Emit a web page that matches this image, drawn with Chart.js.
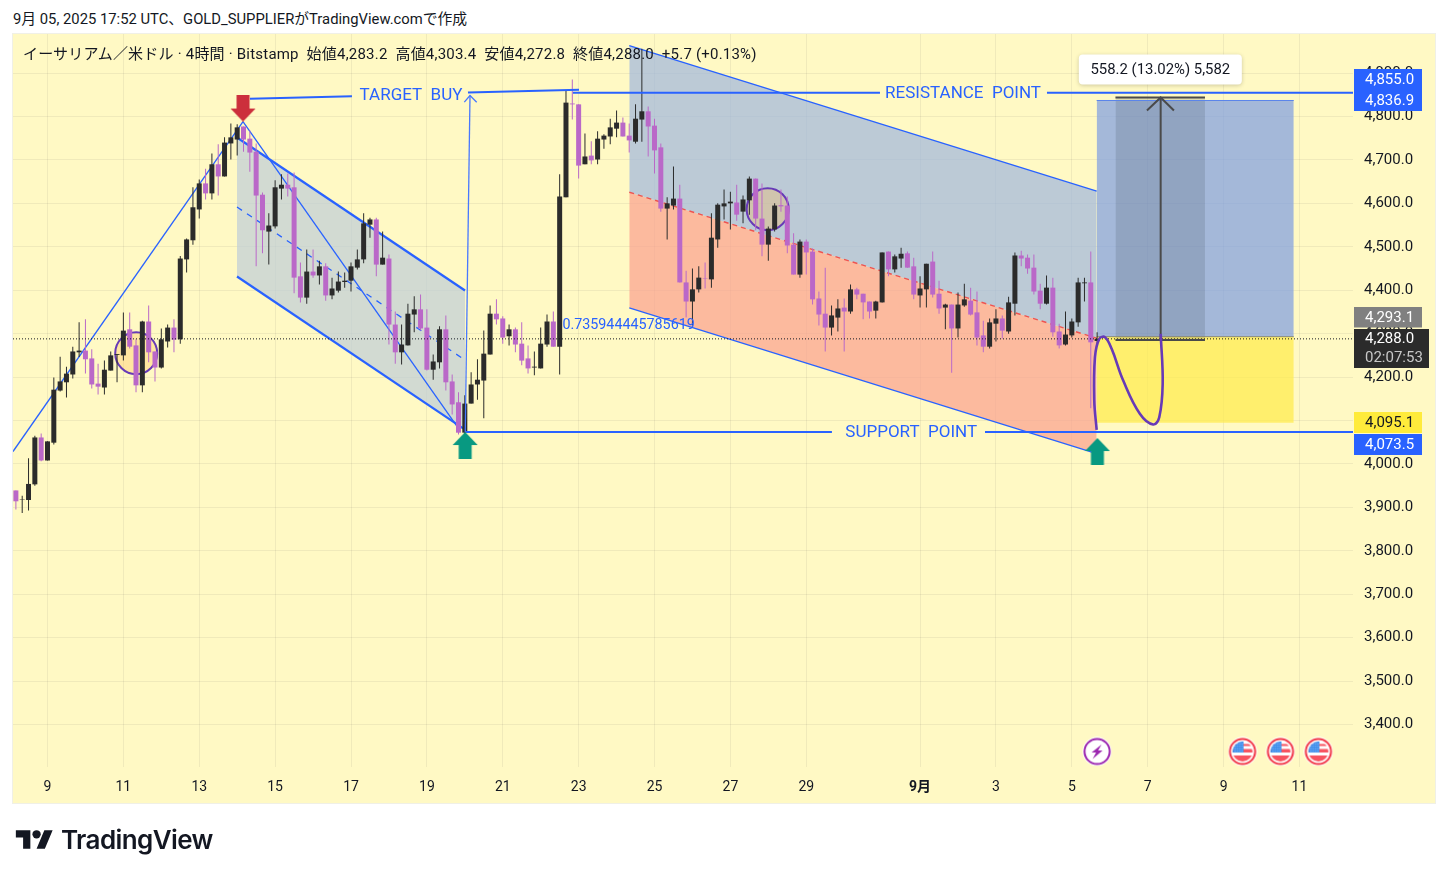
<!DOCTYPE html>
<html><head><meta charset="utf-8"><title>ETH/USD</title>
<script src="https://cdn.jsdelivr.net/npm/chart.js@4"></script>
<style>
html,body{margin:0;padding:0;background:#fff;width:1448px;height:878px;overflow:hidden;font-family:Roboto,"Noto Sans CJK JP",sans-serif;color:#131722}
#cap{position:absolute;left:13px;top:10px;font-size:14.8px;line-height:18px;white-space:pre}
#panel{position:absolute;left:12px;top:33px;width:1422px;height:769px;background:#fff9c4;border:1px solid #f0f0e6}
canvas{position:absolute;left:0;top:0}
#leg{position:absolute;left:23px;top:44px;font-size:15px;line-height:20px;white-space:pre;color:#131722;letter-spacing:.21px}
#logo{position:absolute;left:15px;top:826px}
#logot{position:absolute;left:61px;top:824px;font-size:26px;line-height:32px;font-weight:600;font-family:Inter,Roboto,sans-serif;letter-spacing:-.6px;color:#131722}
</style></head><body>
<div id="cap">9月 05, 2025 17:52 UTC、GOLD_SUPPLIERがTradingView.comで作成</div>
<div id="panel"></div>
<canvas id="c" width="1448" height="878"></canvas>
<div id="leg">イーサリアム／米ドル · 4時間 · Bitstamp  始値4,283.2  高値4,303.4  安値4,272.8  終値4,288.0  +5.7 (+0.13%)</div>
<svg id="logo" width="39" height="29" viewBox="0 0 36 28" fill="#131722"><path d="M14 22H7V11H0V4h14v18zM28 22h-8l7.5-18h8L28 22z"/><circle cx="20" cy="8" r="4"/></svg>
<div id="logot">TradingView</div>
<script>
const opens=[3939,3917,3917,3953,4061,4008,4049,4169,4188,4206,
4257,4261,4243,4185,4176,4215,4251,4250,4310,4273,
4181,4328,4259,4222,4282,4314,4287,4471,4515,4586,
4646,4623,4690,4662,4738,4747,4777,4749,4719,4620,
4535,4547,4634,4643,4637,4432,4383,4443,4434,4455,
4388,4399,4419,4422,4452,4471,4551,4563,4459,4473,
4321,4257,4273,4344,4356,4314,4217,4234,4310,4190,
4142,4072,4139,4183,4192,4252,4346,4335,4294,4310,
4277,4243,4222,4220,4275,4328,4270,4614,4830,4828,
4690,4710,4701,4747,4754,4772,4786,4756,4742,4793,
4812,4779,4729,4588,4595,4611,4418,4374,4402,4427,
4425,4517,4593,4600,4602,4581,4607,4657,4565,4505,
4540,4596,4595,4505,4436,4512,4489,4381,4346,4314,
4337,4360,4351,4402,4392,4374,4353,4372,4489,4448,
4473,4485,4455,4388,4402,4466,4392,4360,4367,4312,
4365,4376,4349,4296,4270,4323,4335,4305,4369,4480,
4475,4452,4399,4369,4406,4305,4275,4296,4326,4416,4418,4283.2];
const closes=[3914,3918,3954,4061,4008,4052,4171,4190,4208,4259,
4261,4241,4183,4178,4217,4250,4253,4307,4270,4181,
4328,4257,4222,4287,4314,4286,4473,4517,4591,4646,
4623,4690,4662,4740,4752,4775,4747,4717,4618,4538,
4549,4637,4643,4634,4429,4383,4443,4434,4455,4388,
4404,4420,4422,4455,4471,4554,4563,4459,4475,4321,
4257,4275,4346,4356,4312,4217,4236,4310,4188,4137,
4072,4139,4183,4194,4254,4346,4333,4291,4310,4275,
4238,4220,4224,4277,4328,4270,4616,4832,4828,4687,
4708,4699,4749,4756,4775,4786,4754,4745,4795,4812,
4777,4722,4588,4600,4611,4418,4374,4402,4429,4426,
4521,4597,4600,4604,4574,4609,4657,4565,4505,4542,
4595,4593,4503,4436,4512,4487,4379,4344,4314,4342,
4358,4351,4402,4390,4372,4351,4374,4487,4448,4478,
4484,4452,4390,4404,4461,4390,4358,4367,4312,4367,
4379,4344,4291,4270,4326,4335,4307,4372,4480,4473,
4450,4397,4369,4406,4303,4273,4298,4328,4418,4418,4280,4288];
const highs=[3939,3927,4013,4065,4070,4052,4199,4247,4224,4270,
4326,4333,4264,4231,4238,4259,4253,4349,4349,4287,
4330,4365,4259,4312,4321,4333,4479,4519,4637,4655,
4680,4715,4736,4752,4784,4782,4777,4768,4738,4625,
4577,4653,4667,4669,4671,4464,4494,4494,4468,4462,
4429,4443,4441,4464,4494,4577,4567,4567,4535,4482,
4351,4321,4369,4386,4390,4356,4252,4317,4342,4206,
4165,4158,4211,4241,4307,4365,4379,4340,4321,4314,
4326,4273,4259,4314,4344,4351,4667,4860,4885,4828,
4761,4743,4766,4759,4795,4814,4798,4784,4828,4956,
4823,4795,4738,4614,4685,4643,4445,4450,4455,4464,
4577,4600,4632,4627,4643,4618,4662,4657,4646,4547,
4600,4632,4616,4531,4517,4517,4496,4397,4452,4365,
4379,4381,4413,4406,4392,4374,4376,4487,4489,4482,
4498,4489,4475,4432,4461,4489,4422,4369,4367,4395,
4415,4406,4397,4330,4335,4356,4342,4385,4487,4491,
4482,4482,4415,4434,4429,4323,4351,4335,4429,4429,4489,4303.4];
const lows=[3895,3887,3893,3950,4006,4008,4045,4167,4153,4197,
4246,4208,4174,4160,4160,4215,4188,4238,4266,4165,
4165,4234,4190,4220,4268,4257,4277,4441,4505,4565,
4609,4609,4618,4662,4701,4710,4719,4673,4455,4485,
4459,4542,4609,4616,4393,4372,4369,4429,4413,4376,
4379,4395,4406,4397,4448,4462,4521,4432,4459,4275,
4231,4229,4273,4303,4307,4215,4194,4220,4169,4114,
4068,4063,4139,4148,4105,4252,4321,4277,4273,4257,
4227,4208,4204,4220,4270,4270,4206,4614,4793,4657,
4690,4690,4690,4726,4736,4752,4754,4717,4738,4742,
4708,4669,4581,4517,4586,4418,4337,4319,4395,4404,
4406,4498,4563,4540,4560,4554,4574,4538,4478,4468,
4535,4581,4485,4436,4429,4436,4367,4319,4259,4296,
4305,4259,4346,4379,4333,4335,4335,4372,4432,4441,
4452,4452,4379,4360,4360,4383,4346,4310,4210,4291,
4362,4342,4273,4257,4266,4282,4289,4300,4342,4455,
4438,4390,4356,4367,4293,4266,4273,4291,4316,4374,4128,4272.8];

const xTickIndex=[5,17,29,41,53,65,77,89,101,113,125,143,155,167,179,191,203];
const xTickLabels=["9","11","13","15","17","19","21","23","25","27","29","9月","3","5","7","9","11"];
const priceTicks=[3400,3500,3600,3700,3800,3900,4000,4100,4200,4300,4400,4500,4600,4700,4800,4900];
const xMin=-0.456, xMax=211.47, yMin=3302.2, yMax=4990;

const lastClose=4288, resistance=4855, support=4073.5;
const riseLine=[[-0.46,4028.6],[35.92,4788.5]];
const fallLine=[[35.92,4788.5],[70.24,4077]];
const flagTop=[[34.97,4751.6],[71.03,4399.3]];
const flagMid=[[34.97,4591.6],[71.03,4239.2]];
const flagBot=[[34.97,4431.6],[71.03,4079]];
const targetA=[[37.02,4840.8],[53.15,4846.7]];
const targetB=[[71.5,4855.3],[89.06,4861.5]];
const buyArrow=[[71.07,4073],[71.82,4848.4]];
const buyHead=[[70.92,4833],[71.82,4848.4],[72.88,4833]];
const resistA=[[88.1,resistance],[136.66,resistance]];
const resistB=[[163.07,resistance],[xMax,resistance]];
const supportA=[[71.19,support],[129.06,support]];
const supportB=[[153.27,support],[xMax,support]];
const chanTop=[[97.01,4963.5],[170.93,4628]];
const chanMid=[[97.01,4625.7],[170.93,4289.5]];
const chanBot=[[97.01,4359.5],[170.93,4024]];
const boxX=[170.93,202.1], boxTop=4836.9, boxEntry=4293.1, boxStop=4095.1;
const rangeX=[173.9,188.06], rangeHi=4843.8, rangeLo=4285.6;
const rangeArrow=[[181.05,rangeLo],[181.05,rangeHi]];
const rangeHead=[[178.88,4813.8],[181.05,rangeHi],[183.15,4813.8]];
const curve=[[170.93,4078.6],[170.55,4146],[170.66,4245.8],[171.34,4288],[172.24,4291.8],[173.3,4265],[175.13,4192],[177.76,4115.4],[179.86,4090.8],[180.83,4107.6],[181.37,4184.5],[181.06,4299.6]];
const circles=[[19.03,4255],[118.9,4586.7]];
const redArrowAt=[[35.92,4819.6]];
const greenArrowAt=[[71.05,4042.4],[171.05,4028.6]];
const lightningAt=[[171,3338]];
const flagsAt=[[194,3338],[200,3338],[206,3338]];
const chartTexts=[
 {t:"TARGET  BUY",x:62.49,y:4850.7},
 {t:"RESISTANCE  POINT",x:149.8,y:4855},
 {t:"SUPPORT  POINT",x:141.6,y:4073.5},
 {t:"0.735944445785619",x:96.9,y:4321,s:14.3}
];
const rangeLabel="558.2 (13.02%) 5,582";
const rangeLabelAt=[181,4908];

const BLUE="#2962ff", FONT='Roboto,"Noto Sans CJK JP",sans-serif';
const pts=a=>a.map(p=>({x:p[0],y:p[1]}));
const datasets=[];
function line(a,o={}){datasets.push(Object.assign({type:'line',data:pts(a),borderColor:BLUE,borderWidth:1.3,pointRadius:0,fill:false,tension:0,order:20},o));}
function band(a,b,color,order=30,border='transparent',bw=0){
  datasets.push({type:'line',data:pts(a),borderColor:border,borderWidth:bw,pointRadius:0,tension:0,backgroundColor:color,fill:'+1',order});
  datasets.push({type:'line',data:pts(b),borderColor:'transparent',borderWidth:0,pointRadius:0,tension:0,fill:false,order:order+1});
}
function marks(a,style,order=3){datasets.push({type:'line',showLine:false,data:pts(a),pointStyle:style,pointRadius:14,fill:false,order});}
function mk(w,h,fn){const c=document.createElement('canvas');c.width=w;c.height=h;fn(c.getContext('2d'));return c;}

const redArrow=mk(26,27,g=>{g.fillStyle="#cc2f3c";g.fillRect(6.5,0,13,14);g.beginPath();g.moveTo(0.5,14);g.lineTo(25.5,14);g.lineTo(13,27);g.closePath();g.fill();});
const greenArrow=mk(26,27,g=>{g.fillStyle="#089981";g.fillRect(6.5,13,13,14);g.beginPath();g.moveTo(0.5,13);g.lineTo(25.5,13);g.lineTo(13,0);g.closePath();g.fill();});
const boltIcon=mk(30,30,g=>{g.fillStyle="#fff";g.beginPath();g.arc(15,15,14.5,0,7);g.fill();g.strokeStyle="#9c27b0";g.lineWidth=2;g.beginPath();g.arc(15,15,12.6,0,7);g.stroke();
 g.fillStyle="#9c27b0";g.beginPath();g.moveTo(19.5,8);g.lineTo(9.5,16);g.lineTo(14,16);g.lineTo(10.5,22.5);g.lineTo(20.5,14);g.lineTo(16,14);g.closePath();g.fill();});
const usFlag=mk(30,30,g=>{g.fillStyle="#fff";g.beginPath();g.arc(15,15,14.5,0,7);g.fill();g.strokeStyle="#f23645";g.lineWidth=2;g.beginPath();g.arc(15,15,12.6,0,7);g.stroke();
 g.save();g.beginPath();g.arc(15,15,10,0,7);g.clip();g.fillStyle="#f7525f";g.fillRect(5,7.5,20,2);g.fillRect(5,12.5,20,3.5);g.fillRect(5,19,20,6);
 g.fillStyle="#3c8cea";g.fillRect(5,5,11,11);g.fillStyle="#bcd8ff";for(let i=0;i<4;i++)for(let j=0;j<4;j++)g.fillRect(7+i*2.4,7+j*2.4,.9,.9);g.restore();});

/* fills */
band(chanTop,chanMid,"rgba(159,183,222,.7)");
band(chanMid,chanBot,"rgba(251,159,142,.7)");
band(flagTop,flagBot,"rgba(191,205,217,.7)");
band([[boxX[0],boxTop],[boxX[1],boxTop]],[[boxX[0],boxEntry],[boxX[1],boxEntry]],"rgba(125,156,227,.7)");
band([[boxX[0],boxEntry],[boxX[1],boxEntry]],[[boxX[0],boxStop],[boxX[1],boxStop]],"rgba(255,235,73,.7)");
band([[rangeX[0],rangeHi],[rangeX[1],rangeHi]],[[rangeX[0],rangeLo],[rangeX[1],rangeLo]],"rgba(42,46,57,.15)",28);
/* circles */
datasets.push({type:'line',showLine:false,data:pts(circles),pointRadius:21,pointBorderWidth:2,pointBorderColor:"#673ab7",pointBackgroundColor:"rgba(255,183,77,.3)",fill:false,order:25});
/* thin drawings */
line(riseLine);line(fallLine);
line(flagTop,{borderWidth:2.2});line(flagBot,{borderWidth:2.2});line(flagMid,{borderDash:[6,6]});
line(chanTop);line(chanBot);line(chanMid,{borderColor:"#ef5350",borderDash:[5,4],borderWidth:1.4});
line([[boxX[0],boxTop],[boxX[1],boxTop]],{borderColor:"#5b85ea",borderWidth:1});
line([[boxX[0],boxEntry],[boxX[1],boxEntry]],{borderColor:"#8a8a7a",borderWidth:1});
line(targetA,{borderWidth:2,order:6});line(targetB,{borderWidth:2,order:6});
line(buyArrow,{order:6,borderColor:"#4878ff"});line(buyHead,{order:6,borderColor:"#4878ff"});
line(resistA,{borderWidth:2,order:6});line(resistB,{borderWidth:2,order:6});
line(supportA,{borderWidth:2,order:6});line(supportB,{borderWidth:2,order:6});
line([[xMin,lastClose],[xMax,lastClose]],{borderColor:"#131722",borderWidth:1,borderDash:[1,2],order:7});
/* candles */
const wicks=opens.map((_,i)=>({x:i,y:[lows[i],highs[i]]}));
const bodies=opens.map((o,i)=>({x:i,y:[o,closes[i]]}));
const candleColor=c=>closes[c.dataIndex]>=opens[c.dataIndex]?"#2b2b2b":"#ba68c8";
datasets.push({type:'bar',data:wicks,barThickness:1,backgroundColor:candleColor,borderSkipped:false,grouped:false,inflateAmount:0,order:11});
datasets.push({type:'bar',data:bodies,barThickness:5,backgroundColor:candleColor,borderSkipped:false,grouped:false,inflateAmount:0,order:10});
/* over candles */
line(rangeArrow,{borderColor:"#4a4a4a",borderWidth:2,order:5});line(rangeHead,{borderColor:"#4a4a4a",borderWidth:2,order:5});
line([[rangeX[0],rangeHi],[rangeX[1],rangeHi]],{borderColor:"#4a4a4a",borderWidth:2,order:5});
line([[rangeX[0],rangeLo],[rangeX[1],rangeLo]],{borderColor:"#4a4a4a",borderWidth:2,order:5});
line(curve,{borderColor:"#673ab7",borderWidth:2.6,tension:.4,order:4});
marks(redArrowAt,redArrow);marks(greenArrowAt,greenArrow);marks(lightningAt,boltIcon);marks(flagsAt,usFlag);

const axisBoxes=[
 {t:["4,855.0"],top:69,h:21,w:68,bg:BLUE,fg:"#fff"},
 {t:["4,836.9"],top:90,h:21,w:68,bg:BLUE,fg:"#fff"},
 {t:["4,293.1"],top:307,h:20.5,w:68,bg:"#808080",fg:"#fff"},
 {t:["4,288.0","02:07:53"],top:329,h:39,w:75,bg:"#2b2b2b",fg:"#fff"},
 {t:["4,095.1"],top:412,h:21,w:68,bg:"#ffeb3b",fg:"#131722"},
 {t:["4,073.5"],top:434,h:21,w:68,bg:BLUE,fg:"#fff"}
];
const overlay={id:'overlay',afterDatasetsDraw(ch){
  const g=ch.ctx,x=ch.scales.x,y=ch.scales.y;g.save();
  g.textBaseline='middle';g.textAlign='center';
  chartTexts.forEach(o=>{const s=o.s||17;g.font=s+'px '+FONT;g.fillStyle=BLUE;g.fillText(o.t,x.getPixelForValue(o.x),y.getPixelForValue(o.y)+1);});
  const cx=x.getPixelForValue(rangeLabelAt[0]),cy=y.getPixelForValue(rangeLabelAt[1]);
  g.shadowColor='rgba(0,0,0,.2)';g.shadowBlur=4;g.shadowOffsetY=1;g.fillStyle='#fff';g.beginPath();g.roundRect(cx-81.5,cy-15,163,30,4);g.fill();
  g.shadowColor='transparent';g.shadowBlur=0;g.shadowOffsetY=0;
  g.font='14.9px '+FONT;g.fillStyle='#131722';g.fillText(rangeLabel,cx,cy+.5);
  g.restore();
},afterDraw(ch){
  const g=ch.ctx;g.save();g.textBaseline='middle';g.textAlign='left';g.font='15px '+FONT;
  axisBoxes.forEach(b=>{g.fillStyle=b.bg;g.fillRect(1354,b.top,b.w,b.h);
    b.t.forEach((s,i)=>{g.fillStyle=(i==1)?'#c8c8c8':b.fg;g.fillText(s,1365,b.top+(b.t.length>1?10.5+i*18.5:b.h/2+.5));});});
  g.restore();
}};

new Chart(document.getElementById('c'),{
  type:'bar',data:{datasets},plugins:[overlay],
  options:{responsive:false,animation:false,events:[],normalized:false,
    layout:{autoPadding:false,padding:{left:13,top:34,right:13,bottom:75}},
    plugins:{legend:{display:false},tooltip:{enabled:false},title:{display:false}},
    scales:{
      x:{type:'linear',offset:false,min:xMin,max:xMax,
        afterBuildTicks(s){s.ticks=xTickIndex.map(v=>({value:v}));},
        afterFit(s){s.height=36;s.paddingLeft=0;s.paddingRight=0;},
        grid:{color:"rgba(42,46,57,.07)",drawTicks:false,offset:false},border:{display:false},
        ticks:{autoSkip:false,maxRotation:0,padding:12,color:"#131722",
          font:c=>({family:FONT,size:14,weight:c.tick&&c.tick.value===143?'700':'400'}),
          callback:v=>xTickLabels[xTickIndex.indexOf(v)]}},
      y:{type:'linear',position:'right',min:yMin,max:yMax,
        afterBuildTicks(s){s.ticks=priceTicks.map(v=>({value:v}));},
        afterFit(s){s.width=82;s.paddingTop=0;s.paddingBottom=0;},
        grid:{color:"rgba(42,46,57,.07)",drawTicks:false},border:{display:false},
        ticks:{autoSkip:false,padding:11,labelOffset:0,color:"#131722",font:{family:FONT,size:15},
          callback:v=>v.toLocaleString('en-US',{minimumFractionDigits:1,maximumFractionDigits:1})}}
    }}
});
</script></body></html>
